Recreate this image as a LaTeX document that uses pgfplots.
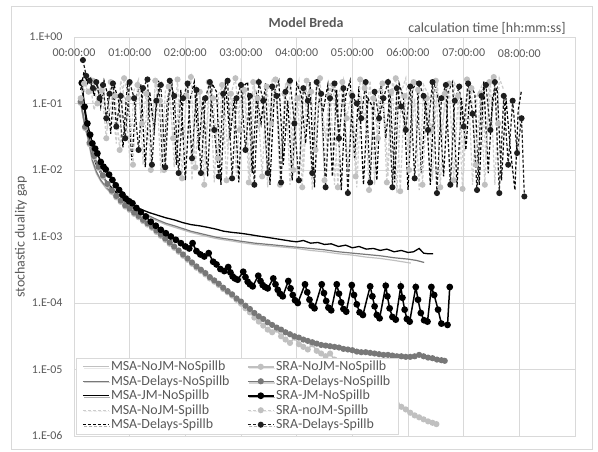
\documentclass[border=0pt]{standalone}
\usepackage{fontspec}
\setmainfont{Carlito}
\usepackage{pgfplots}
\pgfplotsset{compat=1.18}
\usetikzlibrary{shadows}
\definecolor{lgray}{HTML}{C0C0C0}
\definecolor{dlgray}{HTML}{CDCDCD}
\definecolor{mgray}{HTML}{787878}
\definecolor{txt}{HTML}{595959}
\definecolor{gridc}{HTML}{D9D9D9}
\definecolor{dk}{HTML}{1E1E1E}
\begin{document}
\begin{tikzpicture}[x=1bp,y=1bp]
\path[use as bounding box] (0,0) rectangle (598,452);
\draw[gridc, line width=0.75bp] (11,3) rectangle (592,446);
\begin{axis}[
  at={(74bp,16bp)}, anchor=south west,
  scale only axis, width=501bp, height=399bp,
  xmin=0, xmax=9, ymin=1e-6, ymax=1, ymode=log,
  xtick={0,1,2,3,4,5,6,7,8,9},
  xticklabels={00:00:00,01:00:00,02:00:00,03:00:00,04:00:00,05:00:00,06:00:00,07:00:00,08:00:00,},
  ytick={1e-6,1e-5,1e-4,1e-3,1e-2,1e-1,1},
  yticklabels={1.E-06,1.E-05,1.E-04,1.E-03,1.E-02,1.E-01,1.E+00},
  xminorticks=false, yminorticks=false,
  major tick length=0pt,
  xticklabel pos=upper,
  xticklabel style={anchor=center, yshift=-16bp, font=\fontsize{12}{14}\selectfont, text=txt},
  yticklabel style={anchor=east, xshift=-8bp, font=\fontsize{12}{14}\selectfont, text=txt},
  grid=major, major grid style={gridc, line width=0.75bp},
  axis line style={gridc, line width=0.75bp},
  legend style={at={(rel axis cs:0.004,0.005)}, anchor=south west, draw=gridc, fill=white,
    font=\fontsize{14}{15}\selectfont, text=txt,
    drop shadow={shadow xshift=1.5bp, shadow yshift=-1.5bp, opacity=0.3},
    inner xsep=6bp, inner ysep=2bp, row sep=0.3bp,
    nodes={inner sep=1.5bp},
    /tikz/every even column/.append style={column sep=16bp}},
  legend cell align=left, legend columns=5, transpose legend,
  legend image code/.code={\draw[mark repeat=2,mark phase=2,#1] plot coordinates {(0bp,0bp)(13bp,0bp)(26bp,0bp)};},
]
% MSA-NoJM-NoSpillb
\addplot[lgray, line width=1.2bp] coordinates {
(0.12,0.100)(0.18,0.0525)(0.24,0.0324)(0.33,0.0132)(0.40,8.91e-3)(0.48,6.76e-3)(0.57,5.37e-3)(0.66,4.47e-3)(0.78,3.72e-3)(0.90,3.16e-3)(1.05,2.63e-3)(1.20,2.24e-3)(1.35,1.95e-3)(1.50,1.70e-3)(1.65,1.51e-3)(1.80,1.38e-3)(1.95,1.26e-3)(2.10,1.15e-3)(2.25,1.07e-3)(2.39,1.00e-3)(2.55,9.33e-4)(2.69,8.91e-4)(2.85,8.51e-4)(2.99,8.13e-4)(3.25,7.59e-4)(3.50,7.24e-4)(3.75,6.92e-4)(4.00,6.61e-4)(4.25,6.17e-4)(4.50,5.89e-4)(4.75,5.50e-4)(5.00,5.25e-4)(5.25,4.90e-4)(5.50,4.68e-4)(5.75,4.37e-4)(6.05,3.98e-4)};
\addlegendentry{MSA-NoJM-NoSpillb}
% MSA-Delays-NoSpillb
\addplot[mgray, line width=1.2bp] coordinates {
(0.12,0.107)(0.18,0.0562)(0.24,0.0355)(0.33,0.0141)(0.40,9.55e-3)(0.48,7.08e-3)(0.57,5.62e-3)(0.66,4.68e-3)(0.78,3.89e-3)(0.90,3.31e-3)(1.05,2.75e-3)(1.20,2.34e-3)(1.35,2.04e-3)(1.50,1.78e-3)(1.65,1.58e-3)(1.80,1.45e-3)(1.95,1.32e-3)(2.10,1.20e-3)(2.25,1.12e-3)(2.39,1.05e-3)(2.55,9.77e-4)(2.69,9.33e-4)(2.85,8.91e-4)(2.99,8.51e-4)(3.25,7.94e-4)(3.50,7.59e-4)(3.75,7.24e-4)(4.00,6.92e-4)(4.25,6.61e-4)(4.50,6.31e-4)(4.75,5.89e-4)(5.00,5.62e-4)(5.25,5.37e-4)(5.50,5.13e-4)(5.75,4.79e-4)(6.00,4.57e-4)(6.15,4.37e-4)(6.29,4.07e-4)};
\addlegendentry{MSA-Delays-NoSpillb}
% MSA-JM-NoSpillb
\addplot[black, line width=1.3bp] coordinates {
(0.14,0.204)(0.19,0.0794)(0.24,0.0398)(0.33,0.0178)(0.40,0.0120)(0.48,8.91e-3)(0.57,6.92e-3)(0.66,5.62e-3)(0.78,4.37e-3)(0.90,3.55e-3)(1.05,2.95e-3)(1.20,2.57e-3)(1.35,2.29e-3)(1.50,2.09e-3)(1.65,1.91e-3)(1.80,1.78e-3)(1.95,1.62e-3)(2.10,1.51e-3)(2.25,1.45e-3)(2.39,1.38e-3)(2.55,1.29e-3)(2.69,1.20e-3)(2.85,1.15e-3)(2.99,1.12e-3)(3.15,1.07e-3)(3.30,1.02e-3)(3.45,9.77e-4)(3.60,9.33e-4)(3.75,8.91e-4)(3.90,8.51e-4)(4.00,8.32e-4)(4.12,8.71e-4)(4.25,7.94e-4)(4.38,8.13e-4)(4.50,7.59e-4)(4.62,7.76e-4)(4.75,7.08e-4)(4.88,7.41e-4)(5.00,6.76e-4)(5.12,7.08e-4)(5.25,6.46e-4)(5.38,6.61e-4)(5.50,6.17e-4)(5.62,6.46e-4)(5.75,5.89e-4)(5.88,6.17e-4)(6.00,5.75e-4)(6.10,5.89e-4)(6.20,6.61e-4)(6.28,5.62e-4)(6.36,5.50e-4)(6.45,5.50e-4)};
\addlegendentry{MSA-JM-NoSpillb}
% MSA-NoJM-Spillb
\addplot[dlgray, line width=1.2bp, dash pattern=on 3bp off 2bp] coordinates {
(0.12,0.09)(0.20,0.17)(0.28,0.23)(0.36,0.08)(0.44,0.14)(0.52,0.2)(0.60,0.04)(0.68,0.12)(0.76,0.025)(0.84,0.22)(0.92,0.11)(1.00,0.015)(1.08,0.16)(1.16,0.23)(1.24,0.012)(1.32,0.13)(1.40,0.06)(1.48,0.24)(1.56,0.009)(1.64,0.15)(1.72,0.2)(1.80,0.011)(1.88,0.12)(1.96,0.03)(2.04,0.21)(2.12,0.007)(2.20,0.17)(2.28,0.11)(2.36,0.012)(2.44,0.23)(2.52,0.0065)(2.60,0.14)(2.68,0.19)(2.76,0.02)(2.84,0.12)(2.92,0.008)(3.00,0.22)(3.08,0.15)(3.16,0.006)(3.24,0.18)(3.32,0.04)(3.40,0.11)(3.48,0.0055)(3.56,0.24)(3.64,0.13)(3.72,0.015)(3.80,0.2)(3.88,0.006)(3.96,0.12)(4.04,0.22)(4.12,0.009)(4.20,0.15)(4.28,0.005)(4.36,0.19)(4.44,0.11)(4.52,0.03)(4.60,0.21)(4.68,0.006)(4.76,0.14)(4.84,0.23)(4.92,0.01)(5.00,0.16)(5.08,0.0055)(5.16,0.12)(5.24,0.05)(5.32,0.22)(5.40,0.006)(5.48,0.17)(5.56,0.13)(5.64,0.008)(5.72,0.21)(5.80,0.0045)(5.88,0.15)(5.96,0.24)(6.04,0.02)(6.12,0.12)(6.20,0.005)(6.28,0.19)(6.36,0.14)(6.44,0.007)(6.52,0.22)(6.60,0.04)(6.68,0.11)(6.76,0.0055)(6.84,0.2)(6.92,0.15)(7.00,0.009)(7.08,0.23)(7.16,0.006)(7.24,0.13)(7.32,0.18)(7.40,0.015)(7.48,0.22)(7.56,0.006)(7.64,0.24)(7.72,0.16)};
\addlegendentry{MSA-NoJM-Spillb}
% MSA-Delays-Spillb
\addplot[black, line width=1.2bp, dash pattern=on 3bp off 2bp] coordinates {
(0.12,0.16)(0.18,0.3)(0.24,0.2)(0.30,0.24)(0.36,0.13)(0.42,0.2)(0.48,0.09)(0.54,0.22)(0.60,0.14)(0.66,0.035)(0.72,0.19)(0.80,0.11)(0.88,0.022)(0.96,0.21)(1.04,0.014)(1.12,0.13)(1.20,0.2)(1.28,0.011)(1.36,0.15)(1.44,0.04)(1.52,0.22)(1.60,0.009)(1.68,0.12)(1.76,0.19)(1.84,0.012)(1.92,0.16)(2.00,0.007)(2.08,0.11)(2.16,0.21)(2.24,0.02)(2.32,0.13)(2.40,0.008)(2.48,0.2)(2.56,0.15)(2.64,0.006)(2.72,0.22)(2.80,0.03)(2.88,0.12)(2.96,0.0065)(3.04,0.18)(3.12,0.21)(3.20,0.009)(3.28,0.13)(3.36,0.05)(3.44,0.2)(3.52,0.006)(3.60,0.15)(3.68,0.22)(3.76,0.012)(3.84,0.11)(3.92,0.007)(4.00,0.2)(4.08,0.14)(4.16,0.025)(4.24,0.21)(4.32,0.0055)(4.40,0.12)(4.48,0.08)(4.56,0.19)(4.64,0.008)(4.72,0.16)(4.80,0.005)(4.88,0.13)(4.96,0.22)(5.04,0.015)(5.12,0.18)(5.20,0.006)(5.28,0.12)(5.36,0.09)(5.44,0.007)(5.52,0.21)(5.60,0.03)(5.68,0.14)(5.76,0.0065)(5.84,0.2)(5.92,0.12)(6.00,0.005)(6.08,0.16)(6.16,0.22)(6.24,0.009)(6.32,0.13)(6.40,0.006)(6.48,0.2)(6.56,0.1)(6.64,0.008)(6.72,0.15)(6.80,0.21)(6.88,0.0055)(6.96,0.12)(7.04,0.02)(7.12,0.19)(7.20,0.14)(7.28,0.006)(7.36,0.22)(7.44,0.009)(7.52,0.13)(7.60,0.17)(7.68,0.007)(7.76,0.12)(7.84,0.02)(7.92,0.005)(7.98,0.08)(8.04,0.16)};
\addlegendentry{MSA-Delays-Spillb}
% SRA-NoJM-NoSpillb
\addplot[lgray, line width=1.5bp, mark=*, mark size=2.3bp, mark options={fill=lgray, draw=lgray}] coordinates {
(0.12,0.102)(0.20,0.0427)(0.28,0.0245)(0.36,0.0155)(0.44,0.0107)(0.52,7.94e-3)(0.60,5.89e-3)(0.68,4.68e-3)(0.76,3.89e-3)(0.84,3.31e-3)(0.92,2.82e-3)(1.00,2.51e-3)(1.08,2.19e-3)(1.16,1.95e-3)(1.24,1.70e-3)(1.32,1.51e-3)(1.40,1.35e-3)(1.48,1.17e-3)(1.56,1.02e-3)(1.64,8.91e-4)(1.72,7.76e-4)(1.80,6.76e-4)(1.88,5.89e-4)(1.96,5.13e-4)(2.04,4.47e-4)(2.12,3.89e-4)(2.20,3.39e-4)(2.28,3.02e-4)(2.36,2.69e-4)(2.44,2.34e-4)(2.52,2.09e-4)(2.60,1.86e-4)(2.68,1.62e-4)(2.76,1.45e-4)(2.84,1.29e-4)(2.92,1.12e-4)(3.00,9.77e-5)(3.08,8.32e-5)(3.16,7.24e-5)(3.24,6.03e-5)(3.32,5.25e-5)(3.40,4.57e-5)(3.48,3.98e-5)(3.56,3.63e-5)(3.64,3.98e-5)(3.72,3.16e-5)(3.80,2.82e-5)(3.88,2.51e-5)(3.96,3.02e-5)(4.04,2.40e-5)(4.12,2.19e-5)(4.20,2.00e-5)(4.28,2.40e-5)(4.36,1.91e-5)(4.44,1.74e-5)(4.52,1.58e-5)(4.60,1.74e-5)(4.68,1.41e-5)(4.76,1.26e-5)(4.84,1.12e-5)(4.92,1.00e-5)(5.00,8.91e-6)(5.08,7.94e-6)(5.16,7.08e-6)(5.24,6.31e-6)(5.32,5.75e-6)(5.40,5.13e-6)(5.48,4.57e-6)(5.56,4.17e-6)(5.64,3.72e-6)(5.72,3.39e-6)(5.80,3.02e-6)(5.88,2.75e-6)(5.96,2.51e-6)(6.04,2.24e-6)(6.12,2.04e-6)(6.20,1.91e-6)(6.28,1.78e-6)(6.36,1.66e-6)(6.44,1.58e-6)(6.51,1.51e-6)};
\addlegendentry{SRA-NoJM-NoSpillb}
% SRA-Delays-NoSpillb
\addplot[mgray, line width=1.5bp, mark=*, mark size=2.3bp, mark options={fill=mgray, draw=mgray}] coordinates {
(0.12,0.107)(0.20,0.0447)(0.28,0.0257)(0.36,0.0162)(0.44,0.0112)(0.52,8.32e-3)(0.60,6.17e-3)(0.68,4.90e-3)(0.76,4.07e-3)(0.84,3.47e-3)(0.92,2.95e-3)(1.00,2.63e-3)(1.08,2.29e-3)(1.16,2.04e-3)(1.24,1.78e-3)(1.32,1.58e-3)(1.40,1.41e-3)(1.48,1.23e-3)(1.56,1.07e-3)(1.64,9.33e-4)(1.72,8.13e-4)(1.80,7.08e-4)(1.88,6.17e-4)(1.96,5.37e-4)(2.04,4.68e-4)(2.12,4.07e-4)(2.20,3.55e-4)(2.28,3.16e-4)(2.36,2.82e-4)(2.44,2.45e-4)(2.52,2.19e-4)(2.60,1.95e-4)(2.68,1.70e-4)(2.76,1.51e-4)(2.84,1.35e-4)(2.92,1.17e-4)(3.00,1.05e-4)(3.08,9.12e-5)(3.16,8.13e-5)(3.24,7.08e-5)(3.32,6.31e-5)(3.40,5.75e-5)(3.48,5.13e-5)(3.56,4.68e-5)(3.64,4.27e-5)(3.72,3.98e-5)(3.80,3.63e-5)(3.88,3.39e-5)(3.96,3.16e-5)(4.04,3.02e-5)(4.12,2.82e-5)(4.20,2.69e-5)(4.28,2.57e-5)(4.36,2.45e-5)(4.44,2.34e-5)(4.52,2.29e-5)(4.60,2.24e-5)(4.68,2.19e-5)(4.76,2.14e-5)(4.84,2.04e-5)(4.92,2.00e-5)(5.00,1.95e-5)(5.08,1.86e-5)(5.16,1.82e-5)(5.24,1.82e-5)(5.32,1.78e-5)(5.40,1.74e-5)(5.48,1.70e-5)(5.56,1.66e-5)(5.64,1.66e-5)(5.72,1.62e-5)(5.80,1.58e-5)(5.88,1.58e-5)(5.96,1.55e-5)(6.04,1.55e-5)(6.12,1.58e-5)(6.20,1.66e-5)(6.28,1.58e-5)(6.36,1.51e-5)(6.44,1.48e-5)(6.52,1.41e-5)(6.60,1.38e-5)(6.66,1.35e-5)};
\addlegendentry{SRA-Delays-NoSpillb}
% SRA-JM-NoSpillb
\addplot[black, line width=1.5bp, mark=*, mark size=2.6bp, mark options={fill=black}] coordinates {
(0.14,0.204)(0.19,0.0891)(0.24,0.0501)(0.29,0.0339)(0.33,0.0251)(0.38,0.0209)(0.42,0.0178)(0.48,0.0132)(0.53,0.0112)(0.57,0.0102)(0.63,8.51e-3)(0.69,7.08e-3)(0.75,5.89e-3)(0.81,5.01e-3)(0.87,4.27e-3)(0.93,3.72e-3)(0.99,3.39e-3)(1.05,3.16e-3)(1.12,2.69e-3)(1.20,2.34e-3)(1.29,2.00e-3)(1.38,1.66e-3)(1.47,1.45e-3)(1.56,1.26e-3)(1.65,1.12e-3)(1.74,1.00e-3)(1.83,8.91e-4)(1.92,7.94e-4)(2.00,7.08e-4)(2.07,6.61e-4)(2.13,7.94e-4)(2.20,6.03e-4)(2.27,5.37e-4)(2.34,5.01e-4)(2.42,5.62e-4)(2.50,4.17e-4)(2.56,3.80e-4)(2.63,3.24e-4)(2.70,3.02e-4)
(2.77,3.47e-4)(2.81,2.88e-4)(2.85,2.51e-4)(2.89,2.34e-4)(2.94,2.24e-4)
(3.04,2.95e-4)(3.08,2.45e-4)(3.12,2.09e-4)(3.16,1.91e-4)(3.21,1.78e-4)
(3.31,2.57e-4)(3.35,2.14e-4)(3.39,1.86e-4)(3.43,1.74e-4)(3.48,1.66e-4)
(3.58,2.34e-4)(3.62,1.91e-4)(3.66,1.58e-4)(3.70,1.38e-4)(3.75,1.26e-4)
(3.85,2.14e-4)(3.89,1.66e-4)(3.93,1.32e-4)(3.97,1.10e-4)(4.02,1.00e-4)
(4.15,1.91e-4)(4.19,1.45e-4)(4.23,1.12e-4)(4.27,9.12e-5)(4.32,8.32e-5)
(4.45,1.91e-4)(4.49,1.41e-4)(4.53,1.07e-4)(4.57,8.51e-5)(4.62,7.76e-5)
(4.72,1.91e-4)(4.76,1.38e-4)(4.80,1.02e-4)(4.84,8.13e-5)(4.89,7.41e-5)
(4.99,1.86e-4)(5.03,1.32e-4)(5.08,9.55e-5)(5.13,7.24e-5)(5.19,6.61e-5)
(5.32,1.78e-4)(5.36,1.26e-4)(5.40,8.91e-5)(5.44,6.61e-5)(5.49,5.89e-5)
(5.60,1.82e-4)(5.63,1.26e-4)(5.67,8.32e-5)(5.72,6.17e-5)(5.78,5.62e-5)
(5.87,1.78e-4)(5.90,1.20e-4)(5.94,7.94e-5)(5.98,5.75e-5)(6.03,5.25e-5)
(6.14,1.74e-4)(6.18,1.12e-4)(6.23,7.08e-5)(6.29,5.50e-5)(6.35,5.25e-5)
(6.42,1.74e-4)(6.47,1.32e-4)(6.54,7.94e-5)(6.60,4.90e-5)(6.71,4.68e-5)(6.75,1.74e-4)};
\addlegendentry{SRA-JM-NoSpillb}
% SRA-noJM-Spillb
\addplot[dlgray, line width=1.2bp, dash pattern=on 3bp off 2bp, mark=*, mark size=2.4bp, mark options={solid, fill=lgray, draw=lgray}] coordinates {
(0.12,0.12)(0.18,0.2)(0.26,0.15)(0.34,0.22)(0.42,0.1)(0.50,0.16)(0.58,0.03)(0.66,0.21)(0.74,0.13)(0.82,0.02)(0.90,0.24)(0.98,0.12)(1.06,0.012)(1.14,0.19)(1.22,0.05)(1.30,0.14)(1.38,0.01)(1.46,0.22)(1.54,0.11)(1.62,0.01)(1.70,0.18)(1.78,0.03)(1.86,0.23)(1.94,0.0075)(2.02,0.13)(2.10,0.25)(2.18,0.011)(2.26,0.15)(2.34,0.006)(2.42,0.21)(2.50,0.12)(2.58,0.015)(2.66,0.19)(2.74,0.007)(2.82,0.14)(2.90,0.24)(2.98,0.04)(3.06,0.16)(3.14,0.0065)(3.22,0.21)(3.30,0.12)(3.38,0.008)(3.46,0.18)(3.54,0.05)(3.62,0.23)(3.70,0.006)(3.78,0.14)(3.86,0.2)(3.94,0.01)(4.02,0.12)(4.10,0.0055)(4.18,0.22)(4.26,0.15)(4.34,0.02)(4.42,0.24)(4.50,0.007)(4.58,0.13)(4.66,0.19)(4.74,0.0055)(4.82,0.21)(4.90,0.06)(4.98,0.14)(5.06,0.008)(5.14,0.23)(5.22,0.17)(5.30,0.005)(5.38,0.12)(5.46,0.03)(5.54,0.2)(5.62,0.0065)(5.70,0.15)(5.78,0.24)(5.86,0.0048)(5.94,0.13)(6.02,0.01)(6.10,0.21)(6.18,0.16)(6.26,0.006)(6.34,0.12)(6.42,0.04)(6.50,0.22)(6.58,0.0055)(6.66,0.14)(6.74,0.2)(6.82,0.007)(6.90,0.13)(6.98,0.0052)(7.06,0.23)(7.14,0.17)(7.22,0.012)(7.30,0.14)(7.38,0.006)(7.46,0.21)(7.54,0.25)(7.62,0.05)};
\addlegendentry{SRA-noJM-Spillb}
% SRA-Delays-Spillb
\addplot[dk, line width=1.2bp, dash pattern=on 3bp off 2bp, mark=*, mark size=2.4bp, mark options={solid, fill=dk, draw=dk}] coordinates {
(0.16,0.45)(0.22,0.26)(0.28,0.22)(0.34,0.17)(0.40,0.21)(0.46,0.12)(0.52,0.19)(0.58,0.06)(0.64,0.14)(0.70,0.2)(0.76,0.045)(0.84,0.13)(0.92,0.03)(1.00,0.21)(1.08,0.12)(1.16,0.02)(1.24,0.17)(1.32,0.23)(1.40,0.012)(1.48,0.11)(1.56,0.19)(1.64,0.011)(1.72,0.22)(1.80,0.13)(1.88,0.009)(1.96,0.12)(2.04,0.2)(2.12,0.015)(2.20,0.16)(2.28,0.009)(2.36,0.12)(2.44,0.21)(2.52,0.04)(2.60,0.008)(2.68,0.14)(2.76,0.22)(2.84,0.0075)(2.92,0.12)(3.00,0.19)(3.08,0.02)(3.16,0.13)(3.24,0.006)(3.32,0.21)(3.40,0.11)(3.48,0.009)(3.56,0.18)(3.64,0.13)(3.72,0.0065)(3.80,0.15)(3.88,0.22)(3.96,0.05)(4.04,0.007)(4.12,0.17)(4.20,0.11)(4.28,0.009)(4.36,0.21)(4.44,0.14)(4.52,0.0055)(4.60,0.12)(4.68,0.2)(4.76,0.03)(4.84,0.17)(4.92,0.0045)(5.00,0.13)(5.08,0.1)(5.16,0.06)(5.24,0.21)(5.32,0.0065)(5.40,0.15)(5.48,0.06)(5.56,0.12)(5.64,0.21)(5.72,0.0055)(5.80,0.17)(5.88,0.09)(5.96,0.04)(6.04,0.18)(6.12,0.0075)(6.20,0.2)(6.28,0.13)(6.36,0.04)(6.44,0.21)(6.52,0.0045)(6.60,0.12)(6.68,0.19)(6.76,0.006)(6.84,0.11)(6.92,0.18)(7.00,0.045)(7.08,0.2)(7.16,0.07)(7.24,0.005)(7.32,0.13)(7.40,0.19)(7.48,0.04)(7.56,0.21)(7.64,0.0045)(7.72,0.13)(7.80,0.012)(7.88,0.11)(7.96,0.018)(8.04,0.06)(8.09,0.004)};
\addlegendentry{SRA-Delays-Spillb}
\end{axis}
\node[font=\bfseries\fontsize{14}{16}\selectfont, text=txt] at (306,429) {Model Breda};
\node[font=\fontsize{14}{16}\selectfont, text=txt] at (487,424) {calculation time [hh:mm:ss]};
\node[font=\fontsize{14}{16}\selectfont, text=txt, rotate=90] at (21,215) {stochastic duality gap};
\end{tikzpicture}
\end{document}
